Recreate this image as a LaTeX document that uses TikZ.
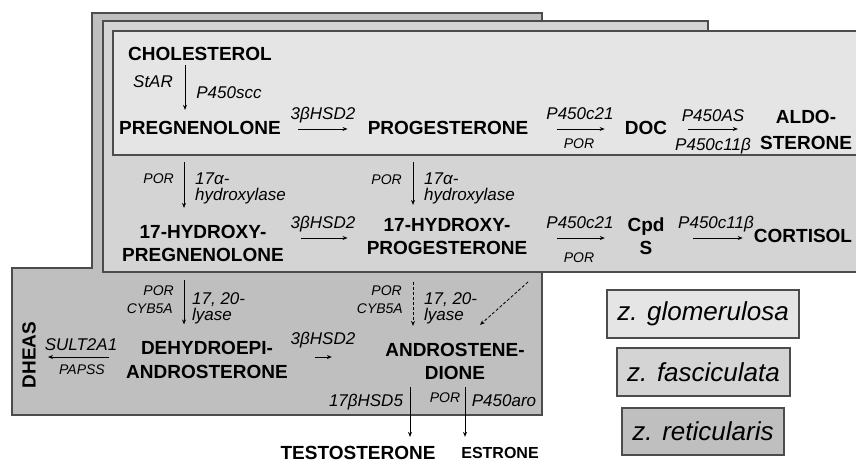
\documentclass[tikz,border=0pt]{standalone}
\usepackage{fontspec}
\setmainfont{Liberation Sans}
\usetikzlibrary{calc,arrows.meta}
\definecolor{glom}{gray}{0.90}
\definecolor{fasc}{gray}{0.83}
\definecolor{reti}{gray}{0.75}
\definecolor{edgec}{gray}{0.30}
\begin{document}
\begin{tikzpicture}[x=1pt,y=-1pt,
 zone/.style={draw=edgec,line width=1.3pt},
 cmp/.style={font=\fontsize{19}{23}\selectfont\bfseries,align=center,inner sep=1pt},
 enz/.style={font=\fontsize{17}{17}\selectfont\itshape,inner sep=1pt,anchor=base},
 enzm/.style={font=\fontsize{17}{16}\selectfont\itshape,inner sep=1pt,align=left,anchor=west},
 sml/.style={font=\fontsize{14}{14}\selectfont\itshape,inner sep=1pt,anchor=base},
 arr/.style={-{Stealth[length=5pt,width=4pt]},line width=0.8pt},
 dsh/.style={arr,dash pattern=on 3pt off 2pt},
 legendbox/.style={draw=edgec,line width=1.2pt,font=\fontsize{26}{26}\selectfont\itshape,inner sep=0pt}]
\useasboundingbox (0,0) rectangle (856,463);
\fill[white] (0,0) rectangle (856,463);
% zones
\draw[zone,fill=reti] (92,13) -- (542,13) -- (542,415) -- (12,415) -- (12,268) -- (92,268) -- cycle;
\draw[zone,fill=fasc] (103,21) -- (708,21) -- (708,31) -- (862,31) -- (862,272) -- (103,272) -- cycle;
\draw[zone,fill=glom] (113,31) rectangle (862,155);

% compounds
\node[cmp] (chol) at (200,54) {CHOLESTEROL};
\node[cmp] (preg) at (200,128) {PREGNENOLONE};
\node[cmp] (prog) at (448,128) {PROGESTERONE};
\node[cmp] (doc) at (646,128) {DOC};
\node[cmp,font=\fontsize{19}{26}\selectfont\bfseries] (aldo) at (806,130) {ALDO-\\STERONE};
\node[cmp] (hpreg) at (203,243.5) {17-HYDROXY-\\PREGNENOLONE};
\node[cmp] (hprog) at (447,236.5) {17-HYDROXY-\\PROGESTERONE};
\node[cmp] (cpds) at (646,236.5) {Cpd\\S};
\node[cmp] (cort) at (803,236) {CORTISOL};
\node[cmp,font=\fontsize{19}{24}\selectfont\bfseries] (dhea) at (207,360) {DEHYDROEPI-\\ANDROSTERONE};
\node[cmp] (andro) at (455,361.5) {ANDROSTENE-\\DIONE};
\node[cmp] (testo) at (358,453) {TESTOSTERONE};
\node[cmp,font=\fontsize{16}{20}\selectfont\bfseries] (estr) at (500,453) {ESTRONE};
\node[cmp,rotate=90] (dheas) at (29,355) {DHEAS};

% enzyme labels
\node[enz] (star) at (153,87.1) {StAR};
\node[enz] (scc) at (229,98.1) {P450scc};
\node[enz] (hsda) at (323,119.1) {3βHSD2};
\node[enz] (c21a) at (580,119.1) {P450c21};
\node[sml] (pora) at (579,148) {POR};
\node[enz] (as) at (713,121.1) {P450AS};
\node[enz] (c11a) at (713,150.1) {P450c11β};

\node[sml,anchor=base east] (porb) at (175,183) {POR};
\node[enzm] (hyda) at (194,188.3) {17α-\\hydroxylase};
\node[sml,anchor=base east] (porc) at (403,184) {POR};
\node[enzm] (hydb) at (423,188.3) {17α-\\hydroxylase};
\node[enz] (hsdb) at (323,228.1) {3βHSD2};
\node[enz] (c21b) at (580,228.1) {P450c21};
\node[sml] (pord) at (579,262) {POR};
\node[enz] (c11b) at (716,228.1) {P450c11β};

\node[sml,anchor=base east] (pore) at (175,295) {POR};
\node[sml,anchor=base east] (cyba) at (174,313) {CYB5A};
\node[enzm] (lya) at (191,308.3) {17, 20-\\lyase};
\node[sml,anchor=base east] (porf) at (403,295) {POR};
\node[sml,anchor=base east] (cybb) at (404,313) {CYB5A};
\node[enzm] (lyb) at (423,308.3) {17, 20-\\lyase};
\node[enz] (hsdc) at (323,344.1) {3βHSD2};
\node[enz] (sult) at (81,350) {SULT2A1};
\node[sml] (papss) at (82,374) {PAPSS};
\node[enz] (hsd5) at (366,406.1) {17βHSD5};
\node[sml] (porg) at (445,402) {POR};
\node[enz] (aro) at (504,406.1) {P450aro};

% legend
\node[legendbox,fill=glom,minimum width=192pt,minimum height=48pt] (lgl) at (703,314) {z. glomerulosa};
\node[legendbox,fill=fasc,minimum width=173pt,minimum height=48pt] (lfa) at (703.5,372) {z. fasciculata};
\node[legendbox,fill=reti,minimum width=162pt,minimum height=47pt] (lre) at (703,431.5) {z. reticularis};

% connectors
\draw[arr] ($(chol.south)+(-15,3.2)$) -- ($(preg.north)+(-15,-10.2)$);
\draw[arr] ($(preg.east)+(16.2,1)$) -- ($(prog.west)+(-19,1)$);
\draw[arr] ($(prog.east)+(28,1)$) -- ($(doc.west)+(-19,1)$);
\draw[arr] ($(doc.east)+(20,1)$) -- ($(aldo.west |- doc.east)+(-21,1)$);

\draw[arr] ($(preg.south)+(-16,26.2)$) -- ($(hpreg.north)+(-19,-16.2)$);
\draw[arr] ($(prog.south)+(-35,26.2)$) -- ($(hprog.north)+(-34,-12.2)$);

\draw[arr] ($(hpreg.east |- hprog.west)+(16,1.5)$) -- ($(hprog.west)+(-18,1.5)$);
\draw[arr] ($(hprog.east)+(29,1.5)$) -- ($(cpds.west)+(-21.5,1.5)$);
\draw[arr] ($(cpds.east)+(27.5,1.5)$) -- ($(cort.west |- cpds.east)+(-10,1.5)$);

\draw[arr] ($(hpreg.south)+(-19,17.2)$) -- ($(dhea.north)+(-23,-15.7)$);
\draw[dsh] ($(hprog.south)+(-34,26.2)$) -- ($(andro.north)+(-42,-16.2)$);
\coordinate (dstart) at (528,282);
\draw[dsh] (dstart) -- ($(andro.north)+(25,-17.2)$);

\draw[arr] ($(dhea.west)+(-16.25,-3)$) -- ($(dheas.center |- dhea.west)+(19,-3)$);
\draw[arr] ($(dhea.east)+(26.25,-3)$) -- ($(andro.west |- dhea.east)+(-52.3,-3)$);
\draw[arr] ($(andro.south)+(-45,6.2)$) -- ($(testo.north)+(52,-8.2)$);
\draw[arr] ($(andro.south)+(10,6.2)$) -- ($(estr.north)+(-35,-9.3)$);
\end{tikzpicture}
\end{document}
